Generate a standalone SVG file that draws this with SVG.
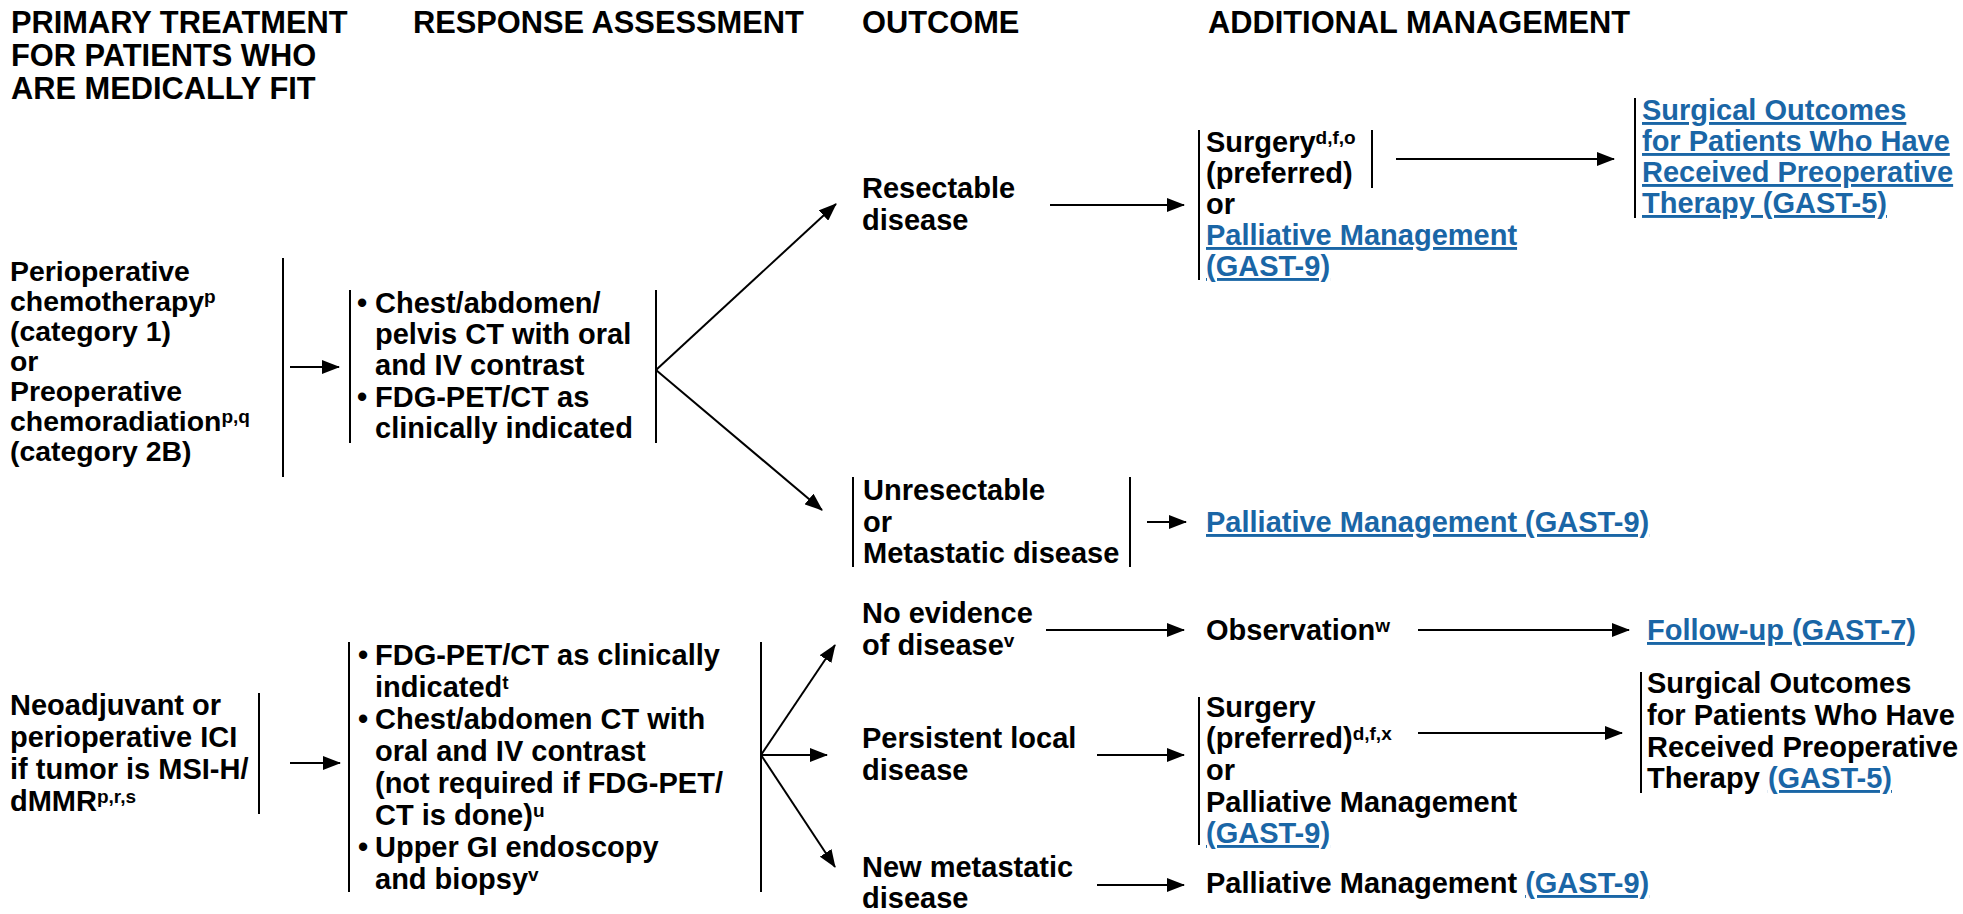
<svg xmlns="http://www.w3.org/2000/svg" width="1963" height="914" viewBox="0 0 1963 914">
<defs>
<style>
text{font-family:"Liberation Sans",Arial,sans-serif;font-weight:bold;fill:#000}
.h{font-size:30.8px}
.t{font-size:29px}
.t2{font-size:28.4px}
.lk{fill:#1a66a6;text-decoration:underline}
.sup{font-size:19px}
.br{stroke:#000;stroke-width:2;fill:none}
.ar{stroke:#000;stroke-width:2;fill:none;marker-end:url(#ah)}
</style>
<marker id="ah" markerUnits="userSpaceOnUse" markerWidth="18" markerHeight="14" refX="17" refY="7" orient="auto">
<path d="M0,0 L18,7 L0,14 z" fill="#000"/>
</marker>
</defs>
<rect width="1963" height="914" fill="#fff"/>

<g id="headers">
<text class="h" x="11" y="33">PRIMARY TREATMENT</text>
<text class="h" x="11" y="66">FOR PATIENTS WHO</text>
<text class="h" x="11" y="99">ARE MEDICALLY FIT</text>
<text class="h" x="413" y="33">RESPONSE ASSESSMENT</text>
<text class="h" x="862" y="33">OUTCOME</text>
<text class="h" x="1208" y="33">ADDITIONAL MANAGEMENT</text>
</g>

<g id="connectors">
<path class="br" d="M283,258V477"/>
<path class="ar" d="M290,367H339"/>
<path class="br" d="M350,290V443M656,290V443"/>
<path class="ar" d="M656,370L836,204"/>
<path class="ar" d="M656,370L822,510"/>
<path class="ar" d="M1050,205H1184"/>
<path class="br" d="M1199,130V280M1372,130V188"/>
<path class="ar" d="M1396,159H1614"/>
<path class="br" d="M1635,98V218"/>
<path class="br" d="M853,477V567M1130,477V567"/>
<path class="ar" d="M1147,522H1186"/>
<path class="br" d="M259,693V814"/>
<path class="ar" d="M290,763H340"/>
<path class="br" d="M349,642V892M761,642V892"/>
<path class="ar" d="M761,755L835,645"/>
<path class="ar" d="M761,755H827"/>
<path class="ar" d="M761,755L835,867"/>
<path class="ar" d="M1046,630H1184"/>
<path class="ar" d="M1418,630H1629"/>
<path class="ar" d="M1097,755H1184"/>
<path class="br" d="M1199,697V845"/>
<path class="ar" d="M1418,733H1622"/>
<path class="br" d="M1641,672V793"/>
<path class="ar" d="M1097,885H1184"/>
</g>

<g id="primary-1">
<text class="t2" x="10" y="281">Perioperative</text>
<text class="t2" x="10" y="311">chemotherapy<tspan class="sup" dy="-8.5">p</tspan></text>
<text class="t2" x="10" y="341">(category 1)</text>
<text class="t2" x="10" y="371">or</text>
<text class="t2" x="10" y="401">Preoperative</text>
<text class="t2" x="10" y="431">chemoradiation<tspan class="sup" dy="-8.5">p,q</tspan></text>
<text class="t2" x="10" y="461">(category 2B)</text>
</g>

<g id="assessment-1">
<text class="t" x="357" y="313">•</text>
<text class="t" x="375" y="313">Chest/abdomen/</text>
<text class="t" x="375" y="344">pelvis CT with oral</text>
<text class="t" x="375" y="375">and IV contrast</text>
<text class="t" x="357" y="407">•</text>
<text class="t" x="375" y="407">FDG-PET/CT as</text>
<text class="t" x="375" y="438">clinically indicated</text>
</g>

<g id="resectable">
<text class="t" x="862" y="198">Resectable</text>
<text class="t" x="862" y="230">disease</text>
</g>

<g id="unresectable">
<text class="t" x="863" y="500">Unresectable</text>
<text class="t" x="863" y="532">or</text>
<text class="t" x="863" y="563">Metastatic disease</text>
</g>

<g id="surgery-1">
<text class="t" x="1206" y="152">Surgery<tspan class="sup" dy="-8.5">d,f,o</tspan></text>
<text class="t" x="1206" y="183">(preferred)</text>
<text class="t" x="1206" y="214">or</text>
<text class="t lk" x="1206" y="245">Palliative Management</text>
<text class="t lk" x="1206" y="276">(GAST-9)</text>
</g>

<g id="surgical-outcomes-1">
<text class="t lk" x="1642" y="120">Surgical Outcomes</text>
<text class="t lk" x="1642" y="151">for Patients Who Have</text>
<text class="t lk" x="1642" y="182">Received Preoperative</text>
<text class="t lk" x="1642" y="213">Therapy (GAST-5)</text>
</g>

<g id="palliative-1">
<text class="t lk" x="1206" y="532">Palliative Management (GAST-9)</text>
</g>

<g id="primary-2">
<text class="t" x="10" y="715">Neoadjuvant or</text>
<text class="t" x="10" y="747">perioperative ICI</text>
<text class="t" x="10" y="779">if tumor is MSI-H/</text>
<text class="t" x="10" y="811">dMMR<tspan class="sup" dy="-8.5">p,r,s</tspan></text>
</g>

<g id="assessment-2">
<text class="t" x="358" y="665">•</text>
<text class="t" x="375" y="665">FDG-PET/CT as clinically</text>
<text class="t" x="375" y="697">indicated<tspan class="sup" dy="-8.5">t</tspan></text>
<text class="t" x="358" y="729">•</text>
<text class="t" x="375" y="729">Chest/abdomen CT with</text>
<text class="t" x="375" y="761">oral and IV contrast</text>
<text class="t" x="375" y="793">(not required if FDG-PET/</text>
<text class="t" x="375" y="825">CT is done)<tspan class="sup" dy="-8.5">u</tspan></text>
<text class="t" x="358" y="857">•</text>
<text class="t" x="375" y="857">Upper GI endoscopy</text>
<text class="t" x="375" y="889">and biopsy<tspan class="sup" dy="-8.5">v</tspan></text>
</g>

<g id="no-evidence">
<text class="t" x="862" y="623">No evidence</text>
<text class="t" x="862" y="655">of disease<tspan class="sup" dy="-8.5">v</tspan></text>
</g>

<g id="observation">
<text class="t" x="1206" y="640">Observation<tspan class="sup" dy="-8.5">w</tspan></text>
</g>

<g id="follow-up">
<text class="t lk" x="1647" y="640">Follow-up (GAST-7)</text>
</g>

<g id="persistent">
<text class="t" x="862" y="748">Persistent local</text>
<text class="t" x="862" y="780">disease</text>
</g>

<g id="surgery-2">
<text class="t" x="1206" y="717">Surgery</text>
<text class="t" x="1206" y="748">(preferred)<tspan class="sup" dy="-8.5">d,f,x</tspan></text>
<text class="t" x="1206" y="780">or</text>
<text class="t" x="1206" y="812">Palliative Management</text>
<text class="t lk" x="1206" y="843">(GAST-9)</text>
</g>

<g id="surgical-outcomes-2">
<text class="t" x="1647" y="693">Surgical Outcomes</text>
<text class="t" x="1647" y="725">for Patients Who Have</text>
<text class="t" x="1647" y="757">Received Preoperative</text>
<text class="t" x="1647" y="788">Therapy <tspan class="lk">(GAST-5)</tspan></text>
</g>

<g id="new-metastatic">
<text class="t" x="862" y="877">New metastatic</text>
<text class="t" x="862" y="908">disease</text>
</g>

<g id="palliative-2">
<text class="t" x="1206" y="893">Palliative Management <tspan class="lk">(GAST-9)</tspan></text>
</g>
</svg>
